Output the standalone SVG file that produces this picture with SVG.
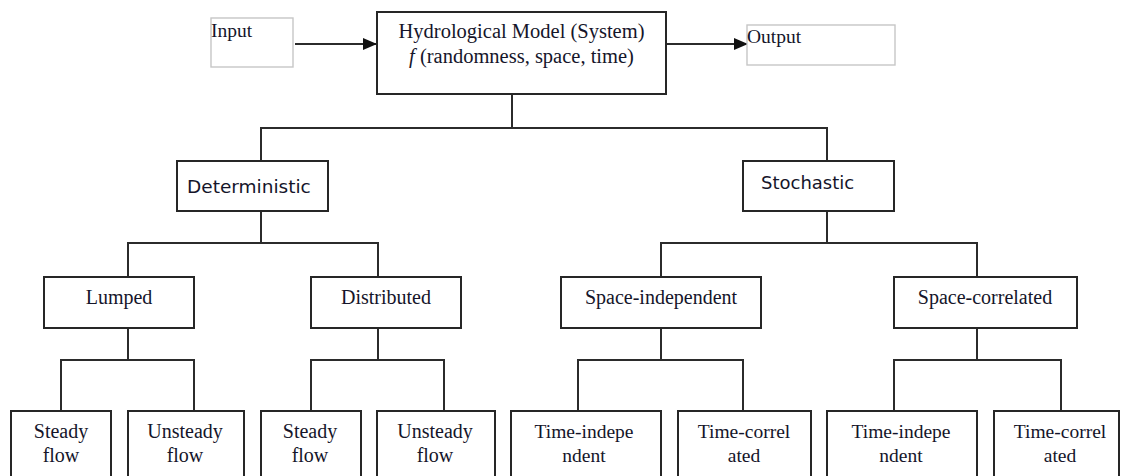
<svg xmlns="http://www.w3.org/2000/svg" width="1122" height="476" viewBox="0 0 1122 476">
  <style>
    .box { fill: #ffffff; stroke: #262626; stroke-width: 2; }
    .io { fill: #ffffff; stroke: #c6c6c6; stroke-width: 1.4; }
    .wire { fill: none; stroke: #2b2b2b; stroke-width: 2; }
    .serif { font-family: "Liberation Serif", "Times New Roman", serif; fill: #15152a; }
    .sans { font-family: "DejaVu Sans", "Liberation Sans", sans-serif; fill: #15152a; }
    .mid { text-anchor: middle; }
  </style>
  <defs>
    <marker id="arrow" markerWidth="14" markerHeight="12" refX="13" refY="6" orient="auto" markerUnits="userSpaceOnUse">
      <path d="M0,0 L14,6 L0,12 Z" fill="#111111"/>
    </marker>
  </defs>

  <!-- connectors -->
  <g id="connectors">
    <line class="wire" x1="295" y1="44" x2="376" y2="44" marker-end="url(#arrow)"/>
    <line class="wire" x1="666" y1="44" x2="747" y2="44" marker-end="url(#arrow)"/>
    <!-- model to main branches -->
    <polyline class="wire" points="512,94 512,128"/>
    <polyline class="wire" points="261,161 261,128 827,128 827,161"/>
    <!-- deterministic -->
    <polyline class="wire" points="261,211 261,243"/>
    <polyline class="wire" points="128,277 128,243 378,243 378,277"/>
    <!-- stochastic -->
    <polyline class="wire" points="827,211 827,243"/>
    <polyline class="wire" points="661,277 661,243 977,243 977,277"/>
    <!-- lumped -->
    <polyline class="wire" points="128,328 128,360"/>
    <polyline class="wire" points="61,411 61,360 194,360 194,411"/>
    <!-- distributed -->
    <polyline class="wire" points="378,328 378,360"/>
    <polyline class="wire" points="311,411 311,360 444,360 444,411"/>
    <!-- space-independent -->
    <polyline class="wire" points="661,328 661,360"/>
    <polyline class="wire" points="578,411 578,360 743,360 743,411"/>
    <!-- space-correlated -->
    <polyline class="wire" points="977,328 977,360"/>
    <polyline class="wire" points="894,411 894,360 1061,360 1061,411"/>
  </g>

  <g id="input">
    <rect class="io" x="211" y="18" width="82" height="49"/>
    <text class="serif" x="211" y="37" font-size="19.5">Input</text>
  </g>

  <g id="model">
    <rect class="box" x="377" y="12" width="289" height="82"/>
    <text class="serif mid" x="521.5" y="38" font-size="20.5">Hydrological Model (System)</text>
    <text class="serif mid" x="521.5" y="63" font-size="20.5"><tspan font-style="italic">f</tspan> (randomness, space, time)</text>
  </g>

  <g id="output">
    <rect class="io" x="747" y="25" width="148" height="40"/>
    <text class="serif" x="747" y="43" font-size="19.5">Output</text>
  </g>

  <g id="deterministic">
    <rect class="box" x="177" y="161" width="151" height="50"/>
    <text class="sans" x="187" y="193" font-size="18.5">Deterministic</text>
  </g>

  <g id="stochastic">
    <rect class="box" x="743" y="161" width="151" height="50"/>
    <text class="sans" x="761" y="189" font-size="18">Stochastic</text>
  </g>

  <g id="lumped">
    <rect class="box" x="44" y="277" width="150" height="51"/>
    <text class="serif mid" x="119" y="304" font-size="20">Lumped</text>
  </g>

  <g id="distributed">
    <rect class="box" x="311" y="277" width="150" height="51"/>
    <text class="serif mid" x="386" y="304" font-size="20">Distributed</text>
  </g>

  <g id="space-independent">
    <rect class="box" x="561" y="277" width="200" height="51"/>
    <text class="serif mid" x="661" y="304" font-size="20">Space-independent</text>
  </g>

  <g id="space-correlated">
    <rect class="box" x="894" y="277" width="183" height="51"/>
    <text class="serif mid" x="985" y="304" font-size="20">Space-correlated</text>
  </g>

  <g id="lumped-steady">
    <rect class="box" x="11" y="411" width="100" height="80"/>
    <text class="serif mid" x="61" y="438" font-size="20">Steady</text>
    <text class="serif mid" x="61" y="462" font-size="20">flow</text>
  </g>

  <g id="lumped-unsteady">
    <rect class="box" x="128" y="411" width="116" height="80"/>
    <text class="serif mid" x="185" y="438" font-size="20">Unsteady</text>
    <text class="serif mid" x="185" y="462" font-size="20">flow</text>
  </g>

  <g id="distributed-steady">
    <rect class="box" x="261" y="411" width="100" height="80"/>
    <text class="serif mid" x="310" y="438" font-size="20">Steady</text>
    <text class="serif mid" x="310" y="462" font-size="20">flow</text>
  </g>

  <g id="distributed-unsteady">
    <rect class="box" x="377" y="411" width="118" height="80"/>
    <text class="serif mid" x="435" y="438" font-size="20">Unsteady</text>
    <text class="serif mid" x="435" y="462" font-size="20">flow</text>
  </g>

  <g id="si-time-independent">
    <rect class="box" x="511" y="411" width="150" height="80"/>
    <text class="serif mid" x="584" y="438" font-size="19.5">Time-indepe</text>
    <text class="serif mid" x="584" y="462" font-size="19.5">ndent</text>
  </g>

  <g id="si-time-correlated">
    <rect class="box" x="678" y="411" width="133" height="80"/>
    <text class="serif mid" x="744" y="438" font-size="19.5">Time-correl</text>
    <text class="serif mid" x="744" y="462" font-size="19.5">ated</text>
  </g>

  <g id="sc-time-independent">
    <rect class="box" x="827" y="411" width="150" height="80"/>
    <text class="serif mid" x="901" y="438" font-size="19.5">Time-indepe</text>
    <text class="serif mid" x="901" y="462" font-size="19.5">ndent</text>
  </g>

  <g id="sc-time-correlated">
    <rect class="box" x="994" y="411" width="125" height="80"/>
    <text class="serif mid" x="1060" y="438" font-size="19.5">Time-correl</text>
    <text class="serif mid" x="1060" y="462" font-size="19.5">ated</text>
  </g>
</svg>
